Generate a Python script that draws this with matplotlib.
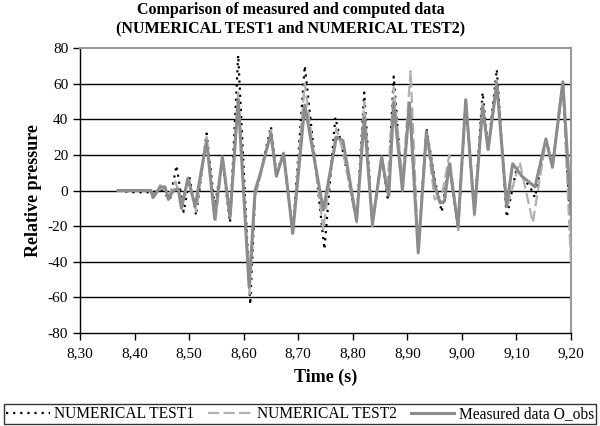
import numpy as np
import matplotlib
matplotlib.use("Agg")
import matplotlib.pyplot as plt

plt.rcParams['font.family'] = ['Liberation Serif', 'DejaVu Serif']
plt.rcParams['axes.unicode_minus'] = False

# measured data (solid grey)
t_meas = [8.37, 8.43, 8.434, 8.447, 8.456, 8.462, 8.471, 8.480, 8.486, 8.498,
          8.511, 8.532, 8.547, 8.561, 8.575, 8.590, 8.610, 8.621, 8.630, 8.650,
          8.660, 8.673, 8.690, 8.712, 8.746, 8.770, 8.782, 8.807, 8.821, 8.836,
          8.853, 8.862, 8.866, 8.875, 8.891, 8.904, 8.920, 8.935, 8.951, 8.960,
          8.968, 8.977, 8.993, 9.007, 9.023, 9.038, 9.048, 9.064, 9.082, 9.093,
          9.110, 9.134, 9.154, 9.166, 9.185, 9.200]
p_meas = [0, 0, -4, 2, 2, -5, 0, 1, -10, 7,
          -9, 28, -16, 19, -15, 51, -54, 0, 9, 32,
          8, 21, -24, 48, -11, 30, 28, -17, 41, -19,
          19, 2, -3, 49, 0, 49, -35, 33, 2, -7,
          -6, 15, -20, 51, -13, 47, 23, 60, -9, 15,
          8, 2, 29, 13, 61, -13]

# numerical test 1 (black dotted)
t_num1 = [8.37, 8.40, 8.43, 8.45, 8.465, 8.477, 8.490, 8.501, 8.513, 8.532,
          8.547, 8.561, 8.575, 8.590, 8.612, 8.621, 8.630, 8.650, 8.660, 8.673,
          8.690, 8.712, 8.748, 8.768, 8.782, 8.807, 8.821, 8.836, 8.853, 8.864,
          8.875, 8.891, 8.904, 8.920, 8.935, 8.951, 8.963, 8.977, 8.993, 9.007,
          9.023, 9.038, 9.048, 9.064, 9.082, 9.100, 9.125, 9.134, 9.154, 9.166,
          9.185, 9.200]
p_num1 = [0, -1, -1, 0, -5, 14, -12, 7, -14, 32,
          -9, 17, -18, 76, -64, -2, 8, 36, 9, 21,
          -24, 70, -33, 41, 22, -17, 55, -19, 19, -4,
          64, 0, 50, -33, 35, 5, -12, 15, -22, 50,
          -12, 55, 23, 68, -15, 12, 2, -4, 29, 14,
          61, -30]

# numerical test 2 (grey dashed)
t_num2 = [8.37, 8.43, 8.436, 8.447, 8.462, 8.475, 8.488, 8.500, 8.513, 8.532,
          8.548, 8.561, 8.576, 8.590, 8.611, 8.621, 8.630, 8.650, 8.660, 8.673,
          8.690, 8.712, 8.746, 8.770, 8.782, 8.807, 8.821, 8.836, 8.853, 8.863,
          8.875, 8.891, 8.906, 8.920, 8.935, 8.950, 8.963, 8.977, 8.993, 9.007,
          9.023, 9.038, 9.048, 9.064, 9.082, 9.106, 9.130, 9.154, 9.166, 9.185,
          9.200]
p_num2 = [0, 0, -3, 3, -3, 5, -8, 6, -12, 30,
          -18, 18, -14, 55, -58, -3, 7, 34, 8, 20,
          -23, 60, -22, 35, 22, -18, 50, -20, 18, 0,
          58, 5, 67, -34, 33, -5, -3, 20, -22, 52,
          -14, 50, 22, 62, -10, 16, -18, 28, 14, 60,
          -41]

x_ticks = [8.30, 8.40, 8.50, 8.60, 8.70, 8.80, 8.90, 9.00, 9.10, 9.20]
x_labels = ["8,30", "8,40", "8,50", "8,60", "8,70", "8,80", "8,90", "9,00", "9,10", "9,20"]
y_ticks = [-80, -60, -40, -20, 0, 20, 40, 60, 80]

fig = plt.figure(figsize=(6, 4.26), dpi=100)
ax = fig.add_axes([0.1333, 0.2183, 0.8184, 0.669])

for y in y_ticks[1:-1]:
    ax.axhline(y, color='black', lw=1.0, zorder=1)

l1, = ax.plot(t_num1, p_num1, color='black', lw=1.6, ls=(0, (1.0, 2.2)), zorder=2,
              label='NUMERICAL TEST1')
l2, = ax.plot(t_num2, p_num2, color='#b0b0b0', lw=1.6, ls=(0, (5, 2)), zorder=3,
              label='NUMERICAL TEST2')
l3, = ax.plot(t_meas, p_meas, color='#8c8c8c', lw=2.2, zorder=4,
              solid_joinstyle='round', label='Measured data O_obs')

ax.set_xlim(8.30, 9.20)
ax.set_ylim(-80, 80)
ax.set_xticks(x_ticks)
ax.set_xticklabels(x_labels)
ax.set_yticks(y_ticks)
ax.tick_params(direction='out', length=5, width=1, labelsize=11, colors='black')
ax.tick_params(axis='x', pad=5)
for s in ['top', 'right']:
    ax.spines[s].set_color('#999999')
    ax.spines[s].set_linewidth(1.5)
for s in ['left', 'bottom']:
    ax.spines[s].set_color('black')
    ax.spines[s].set_linewidth(1.0)

fig.text(0.485, 0.955, "Comparison of measured and computed data\n(NUMERICAL TEST1 and NUMERICAL TEST2)",
         ha='center', va='center', fontsize=11.5, fontweight='bold', linespacing=1.2)
ax.set_xlabel("Time (s)", fontsize=13, fontweight='bold', labelpad=6)
ax.set_ylabel("Relative pressure", fontsize=13, fontweight='bold', labelpad=4)

leg = fig.legend([l1, l2, l3], [l1.get_label(), l2.get_label(), l3.get_label()],
                 loc='lower center', bbox_to_anchor=(0.5, 0.0), ncol=3, fontsize=11.2,
                 frameon=True, fancybox=False, edgecolor='black', handlelength=2.8,
                 handletextpad=0.3, columnspacing=0.9, borderpad=0.15,
                 borderaxespad=0.1)
leg.get_frame().set_linewidth(1.0)

fig.savefig("out.png", dpi=100)
